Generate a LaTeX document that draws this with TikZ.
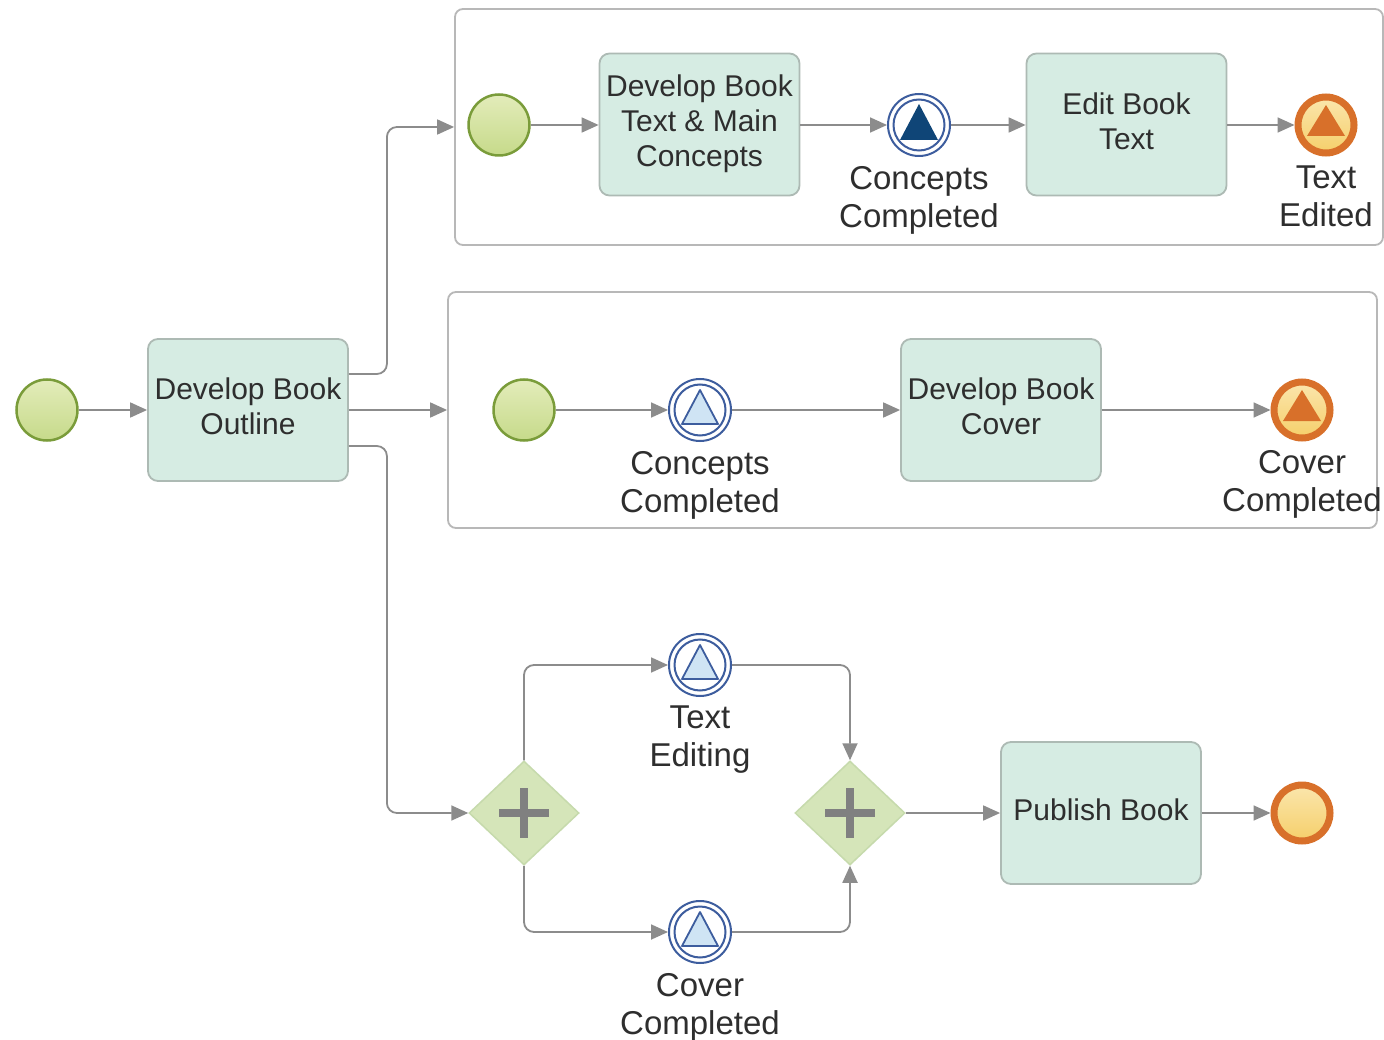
\documentclass[tikz,border=0pt]{standalone}
\usepackage{fontspec}
\setmainfont{Liberation Sans}
\usetikzlibrary{arrows.meta,shapes.geometric,positioning}
\definecolor{taskfill}{HTML}{D6ECE3}
\definecolor{taskdraw}{HTML}{ADBAB4}
\definecolor{flowc}{HTML}{8C8C8C}
\definecolor{poolc}{HTML}{B8B8B8}
\definecolor{gwfill}{HTML}{D5E5B9}
\definecolor{gwdraw}{HTML}{C6DAAC}
\definecolor{plusc}{HTML}{808080}
\definecolor{evblue}{HTML}{3D5D9E}
\definecolor{tridark}{HTML}{0F4577}
\definecolor{trilight}{HTML}{CFE4F4}
\definecolor{endorange}{HTML}{D8702A}
\definecolor{endtop}{HTML}{FBE6AD}
\definecolor{endbot}{HTML}{F5CF6A}
\definecolor{sttop}{HTML}{E3ECBA}
\definecolor{stbot}{HTML}{C6DA8A}
\definecolor{stdraw}{HTML}{7A9C3A}
\definecolor{txt}{HTML}{2E2E2E}
\newcommand{\inring}[1]{\draw[evblue,line width=2pt] (#1.center) circle (25.5pt);}
\newcommand{\darktri}[1]{\fill[tridark] ([shift={(0,-21)}]#1.center) -- ([shift={(-19,15)}]#1.center) -- ([shift={(19,15)}]#1.center) -- cycle;}
\newcommand{\lighttri}[1]{\draw[evblue,line width=1.8pt,fill=trilight,line join=round] ([shift={(0,-20)}]#1.center) -- ([shift={(-18,14)}]#1.center) -- ([shift={(18,14)}]#1.center) -- cycle;}
\newcommand{\orangetri}[1]{\fill[endorange] ([shift={(0,-20)}]#1.center) -- ([shift={(-19,11)}]#1.center) -- ([shift={(19,11)}]#1.center) -- cycle;}
\newcommand{\gwplus}[1]{\draw[plusc,line width=8pt] ([shift={(-25,0)}]#1.center) -- ([shift={(25,0)}]#1.center) ([shift={(0,-25)}]#1.center) -- ([shift={(0,25)}]#1.center);}
\begin{document}
\begin{tikzpicture}[x=1pt,y=-1pt,
  task/.style={draw=taskdraw,line width=1.8pt,fill=taskfill,rounded corners=10pt,
    minimum width=200pt,minimum height=142pt,inner sep=0pt,align=center,
    text depth=7pt,text=txt,font=\fontsize{30}{35}\selectfont},
  pool/.style={draw=poolc,line width=1.8pt,rounded corners=8pt,inner sep=0pt},
  startev/.style={circle,draw=stdraw,line width=2.5pt,top color=sttop,bottom color=stbot,
    minimum size=61pt,inner sep=0pt},
  midev/.style={circle,draw=evblue,line width=2pt,fill=white,minimum size=62pt,inner sep=0pt},
  endev/.style={circle,draw=endorange,line width=7pt,top color=endtop,bottom color=endbot,
    minimum size=56pt,inner sep=0pt},
  gw/.style={diamond,draw=gwdraw,line width=1.5pt,fill=gwfill,minimum width=110pt,
    minimum height=104pt,inner sep=0pt},
  lbl/.style={align=center,text=txt,inner sep=0pt,font=\fontsize{33}{38}\selectfont},
  flow/.style={draw=flowc,line width=1.8pt,rounded corners=10pt,
    -{Triangle[length=17pt,width=15pt]}}
]
\useasboundingbox (0,0) rectangle (1384,1040);
\fill[white] (0,0) rectangle (1384,1040);

% pools
\node[pool,minimum width=928pt,minimum height=236pt] (p1) at (919,127) {};
\node[pool,minimum width=929pt,minimum height=236pt] (p2) at (912.5,410) {};

% main
\node[startev] (s0) at (47,410) {};
\node[task] (t0) at (248,410) {Develop Book\\Outline};

% pool 1
\node[startev] (s1) at (499,125) {};
\node[task] (t1) at (699.5,124.5) {Develop Book\\Text \& Main\\Concepts};
\node[midev] (e1) at (919,125) {};
\inring{e1}\darktri{e1}
\node[lbl,below=9pt of e1] (l1) {Concepts\\Completed};
\node[task] (t2) at (1126.5,124.5) {Edit Book\\Text};
\node[endev] (x1) at (1326,125) {};
\orangetri{x1}
\node[lbl,below=9pt of x1] (l2) {Text\\Edited};

% pool 2
\node[startev] (s2) at (524,410) {};
\node[midev] (e2) at (700,410) {};
\inring{e2}\lighttri{e2}
\node[lbl,below=9pt of e2] (l3) {Concepts\\Completed};
\node[task] (t3) at (1001,410) {Develop Book\\Cover};
\node[endev] (x2) at (1302,410) {};
\orangetri{x2}
\node[lbl,below=9pt of x2] (l4) {Cover\\Completed};

% bottom
\node[gw] (g1) at (524,813) {};
\gwplus{g1}
\node[gw] (g2) at (850,813) {};
\gwplus{g2}
\node[midev] (e3) at (700,665) {};
\inring{e3}\lighttri{e3}
\node[lbl,below=9pt of e3] (l5) {Text\\Editing};
\node[midev] (e4) at (700,932) {};
\inring{e4}\lighttri{e4}
\node[lbl,below=9pt of e4] (l6) {Cover\\Completed};
\node[task] (t4) at (1101,813) {Publish Book};
\node[endev] (x3) at (1302,813) {};

% flows
\draw[flow] (s0) -- (s0 -| t0.west);
\draw[flow] ([yshift=36pt]t0.east) -- ++(38,0) |- (p1.west);
\draw[flow] (t0.east |- s0) -- (s0 -| p2.west);
\draw[flow] ([yshift=-36pt]t0.east) -- ++(38,0) |- (g1.west);

\draw[flow] (s1) -- (s1 -| t1.west);
\draw[flow] (t1.east |- e1) -- (e1);
\draw[flow] (e1) -- (t2.west |- e1);
\draw[flow] (t2.east |- x1) -- (x1);

\draw[flow] (s2) -- (e2);
\draw[flow] (e2) -- (e2 -| t3.west);
\draw[flow] (t3.east |- x2) -- (x2);

\draw[flow] (g1.north) |- (e3.west);
\draw[flow] (e3.east) -| (g2.north);
\draw[flow] (g1.south) |- (e4.west);
\draw[flow] (e4.east) -| (g2.south);
\draw[flow] (g2.east) -- (g2 -| t4.west);
\draw[flow] (t4.east |- x3) -- (x3);
\end{tikzpicture}
\end{document}
